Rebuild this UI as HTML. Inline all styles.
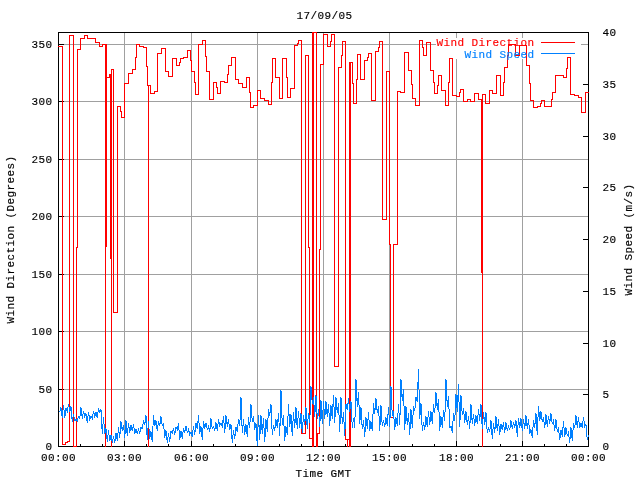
<!DOCTYPE html>
<html><head><meta charset="utf-8"><title>Wind 17/09/05</title>
<style>
html,body{margin:0;padding:0;background:#fff;width:640px;height:480px;overflow:hidden}
svg{display:block}
.t{font-family:"Liberation Mono","DejaVu Sans Mono",monospace;font-size:11px;letter-spacing:0.4px;fill-opacity:1}
.t{fill:#000;stroke:#000;stroke-width:0.15px} .r{fill:#f00;stroke:#f00} .b{fill:#0080ff;stroke:#0080ff}
</style></head><body>
<svg width="640" height="480" viewBox="0 0 640 480" shape-rendering="crispEdges">
<rect width="640" height="480" fill="#fff"/>
<path d="M59,389.5H588M59,331.5H588M59,274.5H588M59,216.5H588M59,159.5H588M59,101.5H588M59,44.5H588M124.5,33V446M191.5,33V446M257.5,33V446M323.5,33V446M389.5,33V446M456.5,33V446M522.5,33V446" stroke="#a0a0a0" stroke-width="1" fill="none"/>
<rect x="436" y="38" width="145" height="21" fill="#fff"/>
<rect x="58.5" y="32.5" width="530" height="414" fill="none" stroke="#000" stroke-width="1"/>
<path d="M58,389.5H64M58,331.5H64M58,274.5H64M58,216.5H64M58,159.5H64M58,101.5H64M58,44.5H64M58,446.5H64M583,446.5H589M583,394.5H589M583,343.5H589M583,291.5H589M583,239.5H589M583,187.5H589M583,136.5H589M583,84.5H589M583,32.5H589M58.5,441V447M80.5,444V447M102.5,444V447M124.5,441V447M146.5,444V447M168.5,444V447M191.5,441V447M213.5,444V447M235.5,444V447M257.5,441V447M279.5,444V447M301.5,444V447M323.5,441V447M345.5,444V447M367.5,444V447M389.5,441V447M412.5,444V447M434.5,444V447M456.5,441V447M478.5,444V447M500.5,444V447M522.5,441V447M544.5,444V447M566.5,444V447M588.5,441V447" stroke="#000" stroke-width="1" fill="none"/>
<text x="534.6" y="45.6" text-anchor="end" class="t r">Wind Direction</text>
<path d="M541,42.5H575" stroke="#f00" stroke-width="1"/>
<path d="M 58.5,46.5 H 62.5 V 444.5 H 65.5 V 442.5 H 67.5 V 441.5 H 69.5 V 35.5 H 73.5 V 446.5 H 76.5 V 247.5 H 77.5 V 49.5 H 80.5 V 38.5 H 84.5 V 35.5 H 87.5 V 38.5 H 95.5 V 42.5 H 99.5 V 46.5 H 102.5 V 44.5 H 106.5 V 246.5 H 105.5" stroke="#f00" stroke-width="1" fill="none" stroke-linejoin="miter" stroke-linecap="square"/>
<path d="M 105.5,44.5 V 446.5" stroke="#f00" stroke-width="1" fill="none" stroke-linejoin="miter" stroke-linecap="square"/>
<path d="M 313.5,32.5 V 446.5" stroke="#f00" stroke-width="1" fill="none" stroke-linejoin="miter" stroke-linecap="square"/>
<path d="M 347.5,439.5 V 446.5" stroke="#f00" stroke-width="1" fill="none" stroke-linejoin="miter" stroke-linecap="square"/>
<path d="M 106.5,77.5 H 109.5 V 74.5 H 110.5 V 258.5" stroke="#f00" stroke-width="1" fill="none" stroke-linejoin="miter" stroke-linecap="square"/>
<path d="M 111.5,446.5 V 69.5 H 113.5 V 312.5 H 117.5 V 106.5 H 120.5 V 111.5 H 121.5 V 117.5 H 124.5 V 83.5 H 128.5 V 73.5 H 132.5 V 69.5 H 135.5 V 57.5 H 136.5 V 44.5 H 139.5 V 46.5 H 143.5 V 47.5 H 146.5 V 66.5 H 147.5 V 85.5 H 148.5 V 446.5 V 85.5 H 150.5 V 93.5 H 154.5 V 91.5 H 157.5 V 53.5 H 161.5 V 48.5 H 165.5 V 71.5 H 168.5 V 76.5 H 172.5 V 58.5 H 176.5 V 65.5 H 179.5 V 62.5 H 180.5 V 58.5 H 183.5 V 57.5 H 187.5 V 50.5 H 190.5 V 60.5 H 191.5 V 71.5 H 194.5 V 82.5 H 195.5 V 94.5 H 198.5 V 44.5 H 202.5 V 40.5 H 205.5 V 56.5 H 206.5 V 71.5 H 209.5 V 99.5 H 213.5 V 82.5 H 216.5 V 87.5 H 217.5 V 93.5 H 220.5 V 81.5 H 224.5 V 82.5 H 227.5 V 74.5 H 228.5 V 65.5 H 231.5 V 57.5 H 235.5 V 79.5 H 238.5 V 83.5 H 242.5 V 87.5 H 246.5 V 77.5 H 249.5 V 92.5 H 250.5 V 107.5 H 253.5 V 105.5 H 257.5 V 90.5 H 260.5 V 98.5 H 264.5 V 100.5 H 268.5 V 104.5 H 271.5 V 82.5 H 272.5 V 58.5 H 275.5 V 77.5 H 279.5 V 98.5 H 282.5 V 58.5 H 286.5 V 77.5 H 287.5 V 97.5 H 290.5 V 88.5 H 294.5 V 45.5 H 297.5 V 43.5 H 298.5 V 40.5 H 301.5 V 433.5 H 305.5 V 55.5 H 308.5 V 247.5 H 309.5 V 438.5 H 312.5 V 446.5 V 32.5 H 316.5 V 446.5 H 317.5 V 433.5 H 319.5 V 249.5 H 320.5 V 64.5 H 323.5 V 34.5 H 327.5 V 46.5 H 330.5 V 41.5 H 331.5 V 34.5 H 334.5 V 366.5 H 338.5 V 67.5 H 341.5 V 55.5 H 342.5 V 41.5 H 345.5 V 439.5 H 349.5 V 446.5 V 62.5 H 350.5 V 446.5 V 62.5 H 352.5 V 83.5 H 353.5 V 103.5 H 356.5 V 79.5 H 357.5 V 54.5 H 360.5 V 79.5 H 364.5 V 60.5 H 367.5 V 57.5 H 368.5 V 53.5 H 371.5 V 100.5 H 375.5 V 51.5 H 378.5 V 47.5 H 379.5 V 41.5 H 382.5 V 219.5 H 386.5 V 71.5 H 389.5 V 244.5 H 390.5 V 417.5 H 393.5 V 244.5 H 397.5 V 91.5 H 400.5 V 92.5 H 404.5 V 52.5 H 408.5 V 70.5 H 411.5 V 84.5 H 412.5 V 98.5 H 415.5 V 105.5 H 419.5 V 40.5 H 422.5 V 47.5 H 423.5 V 55.5 H 426.5 V 42.5 H 430.5 V 70.5 H 433.5 V 82.5 H 434.5 V 93.5 H 437.5 V 85.5 H 438.5 V 75.5 H 441.5 V 90.5 H 445.5 V 105.5 H 448.5 V 82.5 H 449.5 V 58.5 H 452.5 V 95.5 H 456.5 V 96.5 H 459.5 V 92.5 H 460.5 V 89.5 H 463.5 V 101.5 H 467.5 V 99.5 H 470.5 V 101.5 H 474.5 V 93.5 H 478.5 V 99.5 H 481.5 V 272.5 H 482.5 V 446.5 V 94.5 H 485.5 V 103.5 H 489.5 V 90.5 H 492.5 V 93.5 H 496.5 V 75.5 H 500.5 V 95.5 H 503.5 V 82.5 H 504.5 V 67.5 H 507.5 V 55.5 H 508.5 V 44.5 H 515.5 V 55.5 H 519.5 V 45.5 H 526.5 V 65.5 H 529.5 V 83.5 H 530.5 V 100.5 H 533.5 V 107.5 H 537.5 V 106.5 H 540.5 V 103.5 H 541.5 V 100.5 H 544.5 V 106.5 H 551.5 V 99.5 H 552.5 V 92.5 H 555.5 V 75.5 H 563.5 V 77.5 H 566.5 V 68.5 H 567.5 V 57.5 H 570.5 V 94.5 H 574.5 V 95.5 H 578.5 V 97.5 H 581.5 V 112.5 H 585.5 V 92.5 H 588.5" stroke="#f00" stroke-width="1" fill="none" stroke-linejoin="miter" stroke-linecap="square"/>
<text x="534.6" y="57.6" text-anchor="end" class="t b">Wind Speed</text>
<path d="M541,53.5H575" stroke="#0080ff" stroke-width="1"/>
<path d="M58.50,411.5 L59.75,411.5 L61.00,407.5 L62.25,417.5 L63.50,405.5 L64.75,417.5 L66.00,408.5 L67.25,411.5 L68.50,404.5 L69.75,411.5 L71.00,406.5 L72.25,421.5 L73.50,414.5 L74.75,420.5 L76.00,419.5 L77.25,421.5 L78.50,416.5 L79.75,418.5 L81.00,407.5 L82.25,418.5 L83.50,411.5 L84.75,416.5 L86.00,413.5 L87.25,422.5 L88.50,412.5 L89.75,419.5 L91.00,416.5 L92.25,418.5 L93.50,411.5 L94.75,416.5 L96.00,412.5 L97.25,417.5 L98.50,408.5 L99.75,412.5 L101.00,409.5 L102.25,433.5 L103.50,417.5 L104.75,433.5 L106.00,428.5 L107.25,441.5 L108.50,430.5 L109.75,440.5 L111.00,435.5 L112.25,442.5 L113.50,436.5 L114.75,442.5 L116.00,433.5 L117.25,440.5 L118.50,427.5 L119.75,437.5 L121.00,421.5 L122.25,430.5 L123.50,425.5 L124.75,437.5 L126.00,420.5 L127.25,435.5 L128.50,423.5 L129.75,432.5 L131.00,425.5 L132.25,430.5 L133.50,424.5 L134.75,433.5 L136.00,429.5 L137.25,433.5 L138.50,429.5 L139.75,433.5 L141.00,427.5 L142.25,428.5 L143.50,420.5 L144.75,424.5 L146.00,415.5 L147.25,439.5 L148.50,421.5 L149.75,438.5 L151.00,431.5 L152.25,441.5 L153.50,415.5 L154.75,425.5 L156.00,420.5 L157.25,430.5 L158.50,421.5 L159.75,425.5 L161.00,416.5 L162.25,425.5 L163.50,423.5 L164.75,437.5 L166.00,430.5 L167.25,442.5 L168.50,433.5 L169.75,441.5 L171.00,431.5 L172.25,433.5 L173.50,428.5 L174.75,434.5 L176.00,427.5 L177.25,429.5 L178.50,423.5 L179.75,439.5 L181.00,431.5 L182.25,438.5 L183.50,428.5 L184.75,432.5 L186.00,426.5 L187.25,432.5 L188.50,429.5 L189.75,434.5 L191.00,432.5 L192.25,436.5 L193.50,426.5 L194.75,434.5 L196.00,423.5 L197.25,428.5 L198.50,415.5 L199.75,433.5 L201.00,426.5 L202.25,439.5 L203.50,421.5 L204.75,427.5 L206.00,423.5 L207.25,429.5 L208.50,426.5 L209.75,431.5 L211.00,418.5 L212.25,428.5 L213.50,426.5 L214.75,430.5 L216.00,422.5 L217.25,430.5 L218.50,419.5 L219.75,425.5 L221.00,423.5 L222.25,426.5 L223.50,416.5 L224.75,432.5 L226.00,415.5 L227.25,426.5 L228.50,419.5 L229.75,429.5 L231.00,424.5 L232.25,442.5 L233.50,430.5 L234.75,438.5 L236.00,427.5 L237.25,431.5 L238.50,419.5 L239.75,425.5 L241.00,397.5 L242.25,432.5 L243.50,419.5 L244.75,434.5 L246.00,424.5 L247.25,436.5 L248.50,417.5 L249.75,427.5 L251.00,404.5 L252.25,421.5 L253.50,416.5 L254.75,429.5 L256.00,423.5 L257.25,445.5 L258.50,415.5 L259.75,439.5 L261.00,415.5 L262.25,433.5 L263.50,418.5 L264.75,441.5 L266.00,419.5 L267.25,431.5 L268.50,409.5 L269.75,415.5 L271.00,404.5 L272.25,434.5 L273.50,425.5 L274.75,430.5 L276.00,419.5 L277.25,427.5 L278.50,413.5 L279.75,435.5 L281.00,390.5 L282.25,424.5 L283.50,415.5 L284.75,440.5 L286.00,426.5 L287.25,434.5 L288.50,404.5 L289.75,426.5 L291.00,414.5 L292.25,435.5 L293.50,412.5 L294.75,427.5 L296.00,407.5 L297.25,428.5 L298.50,411.5 L299.75,427.5 L301.00,413.5 L302.25,432.5 L303.50,415.5 L304.75,424.5 L306.00,407.5 L307.25,428.5 L308.50,413.5 L309.75,422.5 L311.00,386.5 L312.25,403.5 L313.50,397.5 L314.75,416.5 L316.00,395.5 L317.25,418.5 L318.50,409.5 L319.75,426.5 L321.00,400.5 L322.25,423.5 L323.50,401.5 L324.75,418.5 L326.00,401.5 L327.25,416.5 L328.50,404.5 L329.75,425.5 L331.00,405.5 L332.25,418.5 L333.50,395.5 L334.75,422.5 L336.00,397.5 L337.25,412.5 L338.50,403.5 L339.75,431.5 L341.00,397.5 L342.25,423.5 L343.50,412.5 L344.75,435.5 L346.00,404.5 L347.25,409.5 L348.50,398.5 L349.75,411.5 L351.00,401.5 L352.25,427.5 L353.50,418.5 L354.75,427.5 L356.00,379.5 L357.25,406.5 L358.50,392.5 L359.75,423.5 L361.00,407.5 L362.25,428.5 L363.50,420.5 L364.75,436.5 L366.00,417.5 L367.25,428.5 L368.50,412.5 L369.75,430.5 L371.00,421.5 L372.25,430.5 L373.50,403.5 L374.75,413.5 L376.00,398.5 L377.25,412.5 L378.50,406.5 L379.75,430.5 L381.00,405.5 L382.25,425.5 L383.50,420.5 L384.75,426.5 L386.00,417.5 L387.25,425.5 L388.50,407.5 L389.75,426.5 L391.00,386.5 L392.25,415.5 L393.50,411.5 L394.75,429.5 L396.00,417.5 L397.25,425.5 L398.50,404.5 L399.75,424.5 L401.00,379.5 L402.25,400.5 L403.50,389.5 L404.75,429.5 L406.00,406.5 L407.25,424.5 L408.50,413.5 L409.75,434.5 L411.00,409.5 L412.25,427.5 L413.50,406.5 L414.75,410.5 L416.00,397.5 L417.25,401.5 L418.50,369.5 L419.75,418.5 L421.00,403.5 L422.25,430.5 L423.50,422.5 L424.75,429.5 L426.00,416.5 L427.25,426.5 L428.50,411.5 L429.75,424.5 L431.00,411.5 L432.25,423.5 L433.50,404.5 L434.75,412.5 L436.00,392.5 L437.25,409.5 L438.50,399.5 L439.75,430.5 L441.00,416.5 L442.25,427.5 L443.50,410.5 L444.75,420.5 L446.00,379.5 L447.25,406.5 L448.50,396.5 L449.75,427.5 L451.00,426.5 L452.25,432.5 L453.50,413.5 L454.75,420.5 L456.00,394.5 L457.25,411.5 L458.50,384.5 L459.75,426.5 L461.00,395.5 L462.25,414.5 L463.50,408.5 L464.75,422.5 L466.00,411.5 L467.25,424.5 L468.50,416.5 L469.75,428.5 L471.00,404.5 L472.25,423.5 L473.50,414.5 L474.75,425.5 L476.00,415.5 L477.25,423.5 L478.50,409.5 L479.75,420.5 L481.00,404.5 L482.25,428.5 L483.50,412.5 L484.75,424.5 L486.00,412.5 L487.25,432.5 L488.50,428.5 L489.75,431.5 L491.00,420.5 L492.25,438.5 L493.50,423.5 L494.75,432.5 L496.00,416.5 L497.25,430.5 L498.50,419.5 L499.75,434.5 L501.00,424.5 L502.25,429.5 L503.50,422.5 L504.75,432.5 L506.00,422.5 L507.25,430.5 L508.50,426.5 L509.75,429.5 L511.00,420.5 L512.25,428.5 L513.50,422.5 L514.75,427.5 L516.00,420.5 L517.25,436.5 L518.50,418.5 L519.75,427.5 L521.00,418.5 L522.25,430.5 L523.50,419.5 L524.75,428.5 L526.00,415.5 L527.25,428.5 L528.50,419.5 L529.75,433.5 L531.00,429.5 L532.25,437.5 L533.50,420.5 L534.75,427.5 L536.00,413.5 L537.25,434.5 L538.50,406.5 L539.75,420.5 L541.00,411.5 L542.25,421.5 L543.50,417.5 L544.75,427.5 L546.00,414.5 L547.25,426.5 L548.50,416.5 L549.75,423.5 L551.00,413.5 L552.25,423.5 L553.50,420.5 L554.75,430.5 L556.00,419.5 L557.25,431.5 L558.50,428.5 L559.75,439.5 L561.00,430.5 L562.25,436.5 L563.50,421.5 L564.75,436.5 L566.00,427.5 L567.25,435.5 L568.50,432.5 L569.75,442.5 L571.00,427.5 L572.25,440.5 L573.50,423.5 L574.75,427.5 L576.00,415.5 L577.25,427.5 L578.50,417.5 L579.75,427.5 L581.00,423.5 L582.25,427.5 L583.50,417.5 L584.75,426.5 L586.00,424.5 L587.25,439.5 L588.50,435.5" stroke="#0080ff" stroke-width="1" fill="none"/>
<text x="52.4" y="449.6" text-anchor="end" class="t">0</text>
<text x="52.4" y="392.6" text-anchor="end" class="t">50</text>
<text x="52.4" y="334.6" text-anchor="end" class="t">100</text>
<text x="52.4" y="277.6" text-anchor="end" class="t">150</text>
<text x="52.4" y="219.6" text-anchor="end" class="t">200</text>
<text x="52.4" y="162.6" text-anchor="end" class="t">250</text>
<text x="52.4" y="104.6" text-anchor="end" class="t">300</text>
<text x="52.4" y="47.6" text-anchor="end" class="t">350</text>
<text x="602.4" y="449.6" class="t">0</text>
<text x="602.4" y="397.6" class="t">5</text>
<text x="602.4" y="346.6" class="t">10</text>
<text x="602.4" y="294.6" class="t">15</text>
<text x="602.4" y="242.6" class="t">20</text>
<text x="602.4" y="190.6" class="t">25</text>
<text x="602.4" y="139.6" class="t">30</text>
<text x="602.4" y="87.6" class="t">35</text>
<text x="602.4" y="35.6" class="t">40</text>
<text x="58.5" y="460.6" text-anchor="middle" class="t">00:00</text>
<text x="124.5" y="460.6" text-anchor="middle" class="t">03:00</text>
<text x="191.5" y="460.6" text-anchor="middle" class="t">06:00</text>
<text x="257.5" y="460.6" text-anchor="middle" class="t">09:00</text>
<text x="323.5" y="460.6" text-anchor="middle" class="t">12:00</text>
<text x="389.5" y="460.6" text-anchor="middle" class="t">15:00</text>
<text x="456.5" y="460.6" text-anchor="middle" class="t">18:00</text>
<text x="522.5" y="460.6" text-anchor="middle" class="t">21:00</text>
<text x="588.5" y="460.6" text-anchor="middle" class="t">00:00</text>
<text x="324.5" y="18.6" text-anchor="middle" class="t">17/09/05</text>
<text x="323.5" y="476.6" text-anchor="middle" class="t">Time GMT</text>
<text transform="translate(13.6,239.5) rotate(-90)" text-anchor="middle" class="t">Wind Direction (Degrees)</text>
<text transform="translate(631.6,239.5) rotate(-90)" text-anchor="middle" class="t">Wind Speed (m/s)</text>
</svg>
</body></html>
